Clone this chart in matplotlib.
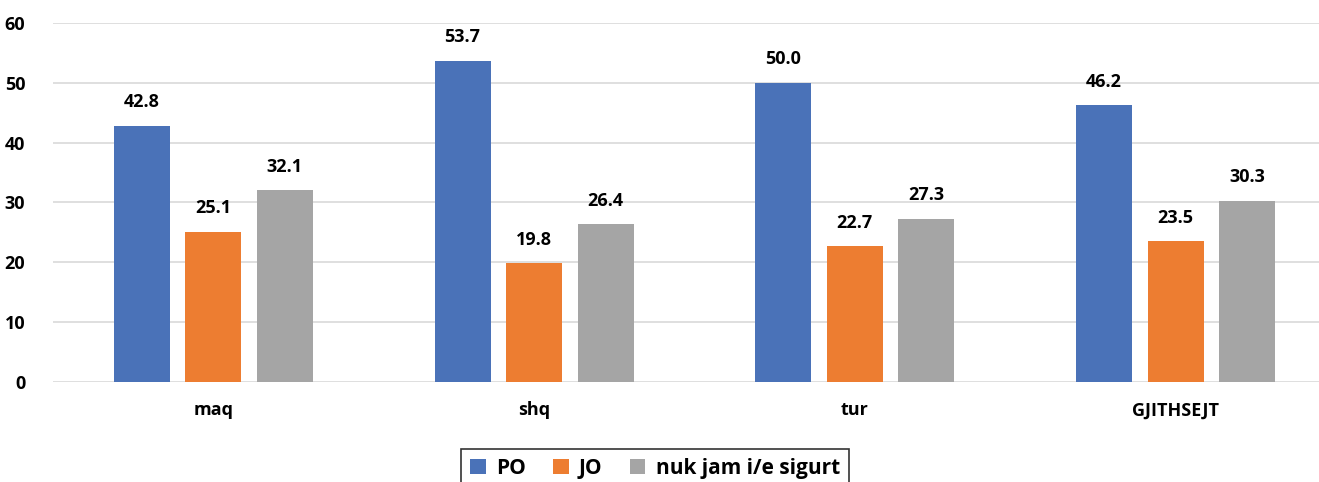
import matplotlib
matplotlib.use("Agg")
import matplotlib.pyplot as plt
import numpy as np

categories = ["maq", "shq", "tur", "GJITHSEJT"]
series_names = ["PO", "JO", "nuk jam i/e sigurt"]
po = [42.8, 53.7, 50.0, 46.2]
jo = [25.1, 19.8, 22.7, 23.5]
nuk = [32.1, 26.4, 27.3, 30.3]
colors = ["#4A72B8", "#ED7D31", "#A5A5A5"]

plt.rcParams['font.family'] = ['Open Sans', 'DejaVu Sans']

fig = plt.figure(figsize=(13.19, 4.82), dpi=100)
# plot area runs past the right edge, as in the cropped original
ax = fig.add_axes([0.0402, 0.2075, 0.9727, 0.745])

x = np.arange(len(categories))
width = 0.1746
step = 0.223
for i, (vals, name, col) in enumerate(zip([po, jo, nuk], series_names, colors)):
    pos = x + (i - 1) * step
    bars = ax.bar(pos, vals, width, color=col, label=name, zorder=3)
    for b, v in zip(bars, vals):
        ax.text(b.get_x() + b.get_width() / 2, v + 2.4, f"{v:.1f}",
                ha="center", va="bottom", fontsize=13, fontweight="bold")

ax.set_xlim(-0.5, len(categories) - 0.5)
ax.set_ylim(0, 60)
ax.set_yticks(range(0, 61, 10))
ax.yaxis.grid(True, color="#D9D9D9", linewidth=1.2, zorder=0)
for s in ["top", "right", "left", "bottom"]:
    ax.spines[s].set_visible(False)
ax.tick_params(axis="both", length=0, labelsize=13)
ax.tick_params(axis="y", pad=20)
ax.tick_params(axis="x", pad=14)
ax.set_xticks(x)
ax.set_xticklabels(categories, fontweight="bold")
for t in ax.get_yticklabels():
    t.set_fontweight("bold")

leg = fig.legend(loc="center", bbox_to_anchor=(0.4966, 0.028), ncol=3,
                 frameon=True, fancybox=False, edgecolor="black",
                 prop={"weight": "bold", "size": 15}, handlelength=0.75,
                 handleheight=0.75, columnspacing=1.3, handletextpad=0.5,
                 borderpad=0.45)
leg.get_frame().set_linewidth(1.2)

fig.savefig("out.png", dpi=100)
